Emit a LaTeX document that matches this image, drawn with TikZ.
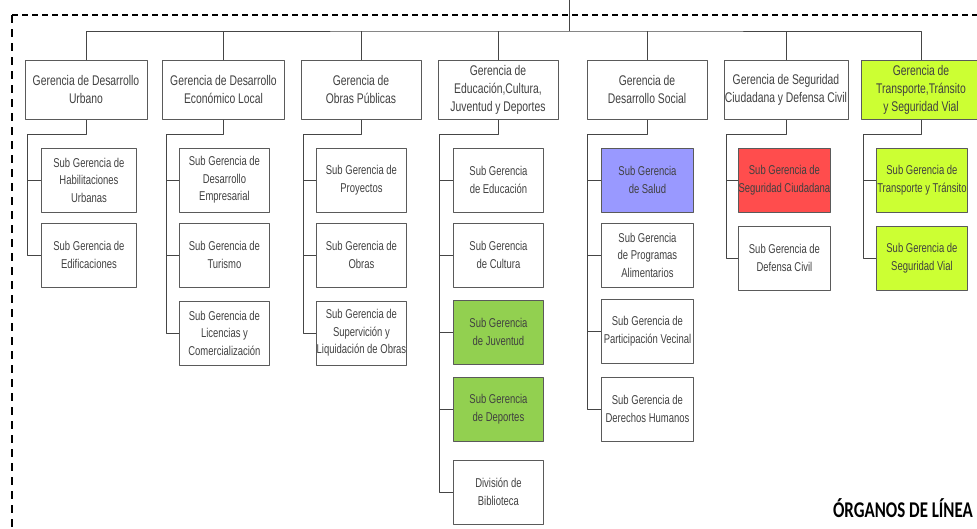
\documentclass[tikz,border=0pt]{standalone}
\usepackage{fontspec}
\newfontfamily\narrowfont{Liberation Sans}[FakeStretch=0.74]
\newfontfamily\titlefont{Carlito}[FakeStretch=0.75]
\definecolor{txt}{HTML}{404040}
\definecolor{boxline}{HTML}{5A5A5A}
\definecolor{linegray}{HTML}{454545}
\definecolor{salud}{HTML}{9999FF}
\definecolor{rojo}{HTML}{FF4D4D}
\definecolor{verde}{HTML}{92D050}
\definecolor{lima}{HTML}{CCFF33}
\begin{document}
\begin{tikzpicture}[x=1pt, y=-1pt, line join=round,
		gbox/.style={draw=boxline, line width=0.9pt, minimum width=122pt, minimum height=59pt, anchor=north, align=center, inner xsep=0pt, inner ysep=1pt, text=txt, font=\narrowfont\fontsize{14}{18}\selectfont},
		sbox/.style={gbox, minimum width=92pt, minimum height=64pt, anchor=west, font=\narrowfont\fontsize{12.8}{17.5}\selectfont},
		link/.style={draw=linegray, line width=0.8pt}
		]
		\clip (0,0) rectangle (977,528);
		% marco punteado
		\draw[line width=1.8pt, dash pattern=on 6pt off 4pt] (12,15) -- (977,15);
		\draw[line width=1.8pt, dash pattern=on 8pt off 6pt] (12,15) -- (12,528);
		\coordinate (top) at (569,0);
		\coordinate (bus) at (569,31);
		% gerencias
		\node[gbox] (g1) at (86,60) {Gerencia de Desarrollo\\Urbano};
		\node[gbox] (g2) at (223.5,60) {Gerencia de Desarrollo\\Económico Local};
		\node[gbox, minimum width=120pt] (g3) at (361,60) {Gerencia de\\Obras Públicas};
		\node[gbox, minimum width=120pt] (g4) at (498,60) {Gerencia de\\Educación,Cultura,\\Juventud y Deportes};
		\node[gbox, minimum width=120pt] (g5) at (647,60) {Gerencia de\\Desarrollo Social};
		\node[gbox, minimum width=124pt] (g6) at (786,60) {Gerencia de Seguridad\\Ciudadana y Defensa Civil};
		\node[gbox, minimum width=120pt, fill=lima] (g7) at (921,60) {Gerencia de\\Transporte,Tránsito\\y Seguridad Vial};
		\draw[link] (top) -- (bus);
		\draw[link] (g1.north) |- (bus) -| (g7.north);
		\draw[link] (g2.north) -- (g2.north |- bus);
		\draw[link] (g3.north) -- (g3.north |- bus);
		\draw[link] (g4.north) -- (g4.north |- bus);
		\draw[link] (g5.north) -- (g5.north |- bus);
		\draw[link] (g6.north) -- (g6.north |- bus);
		% ejes de las subgerencias
		\coordinate (c1) at (27,134);
		\coordinate (c2) at (166,134);
		\coordinate (c3) at (303,134);
		\coordinate (c4) at (439,134);
		\coordinate (c5) at (587,134);
		\coordinate (c6) at (726,134);
		\coordinate (c7) at (863,134);
		% desarrollo urbano
		\node[sbox, minimum width=95pt] (s11) at (41,180) {Sub Gerencia de\\Habilitaciones\\Urbanas};
		\node[sbox, minimum width=95pt] (s12) at (41,255) {Sub Gerencia de\\Edificaciones};
		\draw[link] (g1.south) |- (c1) |- (s12.west);
		\draw[link] (c1 |- s11.west) -- (s11.west);
		% desarrollo economico
		\node[sbox, minimum width=90pt] (s21) at (179,180) {Sub Gerencia de\\Desarrollo\\Empresarial};
		\node[sbox, minimum width=90pt] (s22) at (179,255) {Sub Gerencia de\\Turismo};
		\node[sbox, minimum width=90pt] (s23) at (179,333) {Sub Gerencia de\\Licencias y\\Comercialización};
		\draw[link] (g2.south) |- (c2) |- (s23.west);
		\draw[link] (c2 |- s21.west) -- (s21.west);
		\draw[link] (c2 |- s22.west) -- (s22.west);
		% obras publicas
		\node[sbox, minimum width=90pt] (s31) at (316,180) {Sub Gerencia de\\Proyectos};
		\node[sbox, minimum width=90pt] (s32) at (316,255) {Sub Gerencia de\\Obras};
		\node[sbox, minimum width=90pt] (s33) at (316,333) {Sub Gerencia de\\Supervición y\\Liquidación de Obras};
		\draw[link] (g3.south) |- (c3) |- (s33.west);
		\draw[link] (c3 |- s31.west) -- (s31.west);
		\draw[link] (c3 |- s32.west) -- (s32.west);
		% educacion
		\node[sbox, minimum width=90pt] (s41) at (453,180) {Sub Gerencia\\de Educación};
		\node[sbox, minimum width=90pt] (s42) at (453,255) {Sub Gerencia\\de Cultura};
		\node[sbox, minimum width=90pt, fill=verde] (s43) at (453,332) {Sub Gerencia\\de Juventud};
		\node[sbox, minimum width=90pt, fill=verde] (s44) at (453,409) {Sub Gerencia\\de Deportes};
		\node[sbox, minimum width=90pt] (s45) at (453,492) {División de\\Biblioteca};
		\draw[link] (g4.south) |- (c4) |- (s45.west);
		\draw[link] (c4 |- s41.west) -- (s41.west);
		\draw[link] (c4 |- s42.west) -- (s42.west);
		\draw[link] (c4 |- s43.west) -- (s43.west);
		\draw[link] (c4 |- s44.west) -- (s44.west);
		% desarrollo social
		\node[sbox, fill=salud] (s51) at (601,180) {Sub Gerencia\\de Salud};
		\node[sbox] (s52) at (601,255) {Sub Gerencia\\de Programas\\Alimentarios};
		\node[sbox] (s53) at (601,331) {Sub Gerencia de\\Participación Vecinal};
		\node[sbox] (s54) at (601,409) {Sub Gerencia de\\Derechos Humanos};
		\draw[link] (g5.south) |- (c5) |- (s54.west);
		\draw[link] (c5 |- s51.west) -- (s51.west);
		\draw[link] (c5 |- s52.west) -- (s52.west);
		\draw[link] (c5 |- s53.west) -- (s53.west);
		% seguridad ciudadana
		\node[sbox, fill=rojo] (s61) at (738,180) {Sub Gerencia de\\Seguridad Ciudadana};
		\node[sbox] (s62) at (738,258) {Sub Gerencia de\\Defensa Civil};
		\draw[link] (g6.south) |- (c6) |- (s62.west);
		\draw[link] (c6 |- s61.west) -- (s61.west);
		% transporte
		\node[sbox, minimum width=91pt, fill=lima] (s71) at (876,180) {Sub Gerencia de\\Transporte y Tránsito};
		\node[sbox, minimum width=91pt, fill=lima] (s72) at (876,258) {Sub Gerencia de\\Seguridad Vial};
		\draw[link] (g7.south) |- (c7) |- (s72.west);
		\draw[link] (c7 |- s71.west) -- (s71.west);
		\node[anchor=base east, inner sep=0pt, font=\titlefont\bfseries\fontsize{22.5}{22.5}\selectfont] (titulo) at (973,517) {ÓRGANOS DE LÍNEA};
\end{tikzpicture}
\end{document}
